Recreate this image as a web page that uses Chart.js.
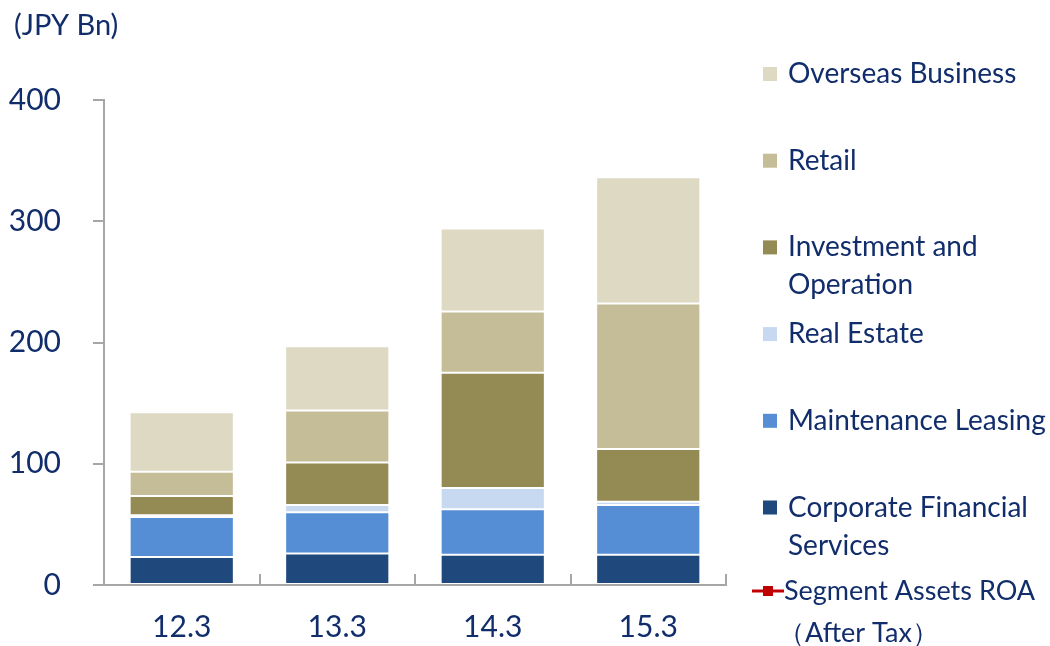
<!DOCTYPE html>
<html>
<head>
<meta charset="utf-8">
<script src="https://cdn.jsdelivr.net/npm/chart.js@4/dist/chart.umd.min.js"></script>
<style>
  body { margin: 0; background: #fff; }
  #wrap { width: 1050px; height: 646px; }
</style>
</head>
<body>
<div id="wrap"><canvas id="segmentChart" width="1050" height="646"></canvas></div>
<script>
// fiscal years (March year-end)
const categories = ["12.3", "13.3", "14.3", "15.3"];
const corporateFinancial = [23, 26, 25, 25];
const maintenanceLeasing = [33, 34, 37.5, 41];
const realEstate = [1.5, 6, 17.5, 2.7];
const investmentOperation = [16, 35, 95, 43.5];
const retail = [20, 43, 50.5, 120];
const overseas = [49, 53, 68.5, 104];
const roa = []; // ROA line is only in the legend here
const yTicks = [0, 100, 200, 300, 400];

const navy = "#112d6b";
const axisGray = "#a6a6a6";
const fontName = "Lato, 'Open Sans', sans-serif";

function barSet(label, data, color) {
  return {
    type: "bar",
    label: label,
    data: data,
    backgroundColor: color,
    borderColor: "rgba(255,255,255,0.85)",
    borderWidth: 1,
    borderSkipped: false,
    barPercentage: 0.67,
    categoryPercentage: 1,
  };
}

// legend on the right, drawn top-down (reverse of stack order)
const legendPlugin = {
  id: "sideLegend",
  afterDraw(chart) {
    const ctx = chart.ctx;
    ctx.save();
    ctx.fillStyle = navy;
    ctx.font = "29px " + fontName;
    ctx.textBaseline = "middle";
    ctx.textAlign = "left";
    ctx.fillText("(JPY Bn)", 14, 26);

    const items = [
      { ds: 5, lines: ["Overseas Business"] },
      { ds: 4, lines: ["Retail"] },
      { ds: 3, lines: ["Investment and", "Operation"] },
      { ds: 2, lines: ["Real Estate"] },
      { ds: 1, lines: ["Maintenance Leasing"] },
      { ds: 0, lines: ["Corporate Financial", "Services"] },
    ];
    ctx.font = "28px " + fontName;
    items.forEach((it, i) => {
      const y = 74 + i * 86.7;
      ctx.fillStyle = chart.data.datasets[it.ds].backgroundColor;
      ctx.fillRect(763, y - 7, 14, 14);
      ctx.fillStyle = navy;
      it.lines.forEach((t, j) => ctx.fillText(t, 788, y + j * 38));
    });

    // ROA entry
    const roaSet = chart.data.datasets[6];
    const ry = 591;
    ctx.strokeStyle = roaSet.borderColor;
    ctx.lineWidth = 3;
    ctx.beginPath();
    ctx.moveTo(752, ry);
    ctx.lineTo(784, ry);
    ctx.stroke();
    ctx.fillStyle = roaSet.borderColor;
    ctx.fillRect(763, ry - 5, 10, 10);
    ctx.fillStyle = navy;
    ctx.font = "27px " + fontName;
    ctx.fillText("Segment Assets ROA", 784, ry);
    ctx.fillText("（After Tax）", 778, ry + 42);
    ctx.restore();
  },
};

// small upward tick marks on the x axis between categories
const xTickPlugin = {
  id: "xInnerTicks",
  afterDraw(chart) {
    const xs = chart.scales.x;
    const ctx = chart.ctx;
    const n = categories.length;
    const step = (xs.right - xs.left) / n;
    ctx.save();
    ctx.strokeStyle = axisGray;
    ctx.lineWidth = 2;
    for (let i = 1; i <= n; i++) {
      const x = Math.round(xs.left + i * step);
      ctx.beginPath();
      ctx.moveTo(x, xs.top);
      ctx.lineTo(x, xs.top - 11);
      ctx.stroke();
    }
    ctx.restore();
  },
};

const ctx = document.getElementById("segmentChart").getContext("2d");
const segmentChart = new Chart(ctx, {
  data: {
    labels: categories,
    datasets: [
      barSet("Corporate Financial Services", corporateFinancial, "#1f497d"),
      barSet("Maintenance Leasing", maintenanceLeasing, "#558ed5"),
      barSet("Real Estate", realEstate, "#c6d9f1"),
      barSet("Investment and Operation", investmentOperation, "#948a54"),
      barSet("Retail", retail, "#c4bd97"),
      barSet("Overseas Business", overseas, "#ddd9c3"),
      {
        type: "line",
        label: "Segment Assets ROA（After Tax）",
        data: roa,
        borderColor: "#c00000",
        backgroundColor: "#c00000",
      },
    ],
  },
  options: {
    responsive: false,
    animation: false,
    layout: { padding: { top: 100, right: 324, left: 0, bottom: 0 } },
    plugins: {
      legend: { display: false },
      tooltip: { enabled: false },
    },
    scales: {
      x: {
        stacked: true,
        grid: { drawOnChartArea: false, drawTicks: false },
        border: { color: axisGray, width: 2 },
        ticks: { color: navy, font: { family: fontName, size: 30 }, padding: 24 },
        afterFit(scale) { scale.height = 61; },
      },
      y: {
        stacked: true,
        min: 0,
        max: 400,
        afterBuildTicks(scale) { scale.ticks = yTicks.map((v) => ({ value: v })); },
        grid: { drawOnChartArea: false, drawTicks: true, tickLength: 11, color: axisGray, lineWidth: 2 },
        border: { color: axisGray, width: 2 },
        ticks: { color: navy, font: { family: fontName, size: 30 }, padding: 32 },
        afterFit(scale) { scale.width = 104; },
      },
    },
  },
  plugins: [legendPlugin, xTickPlugin],
});
</script>
</body>
</html>
